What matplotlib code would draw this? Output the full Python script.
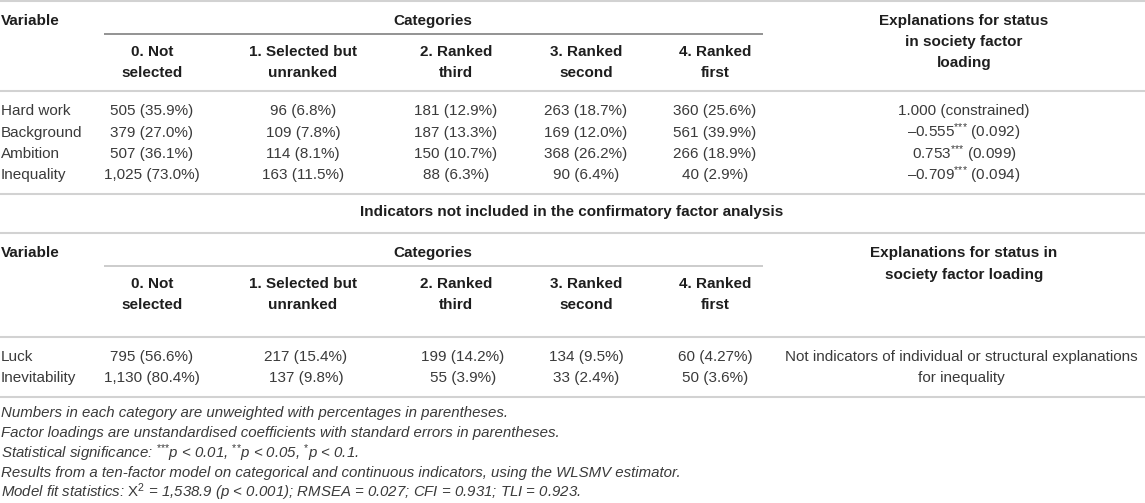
import matplotlib
matplotlib.use("Agg")
import matplotlib.pyplot as plt

plt.rcParams["font.family"] = ["Liberation Sans", "DejaVu Sans"]
plt.rcParams["mathtext.fontset"] = "custom"
plt.rcParams["mathtext.rm"] = "Liberation Sans"
plt.rcParams["mathtext.it"] = "Liberation Sans:italic"
plt.rcParams["mathtext.bf"] = "Liberation Sans:bold"

# -----------------------------
# table data
# -----------------------------
CATEGORIES = ["0. Not\nselected", "1. Selected but\nunranked", "2. Ranked\nthird",
              "3. Ranked\nsecond", "4. Ranked\nfirst"]

CFA_VARS = ["Hard work", "Background", "Ambition", "Inequality"]
CFA_COUNTS = [[505, 96, 181, 263, 360],
              [379, 109, 187, 169, 561],
              [507, 114, 150, 368, 266],
              [1025, 163, 88, 90, 40]]
CFA_PCTS = [["35.9", "6.8", "12.9", "18.7", "25.6"],
            ["27.0", "7.8", "13.3", "12.0", "39.9"],
            ["36.1", "8.1", "10.7", "26.2", "18.9"],
            ["73.0", "11.5", "6.3", "6.4", "2.9"]]
LOADINGS = ["1.000", "–0.555", "0.753", "–0.709"]
LOAD_STARS = [0, 3, 3, 3]
LOAD_SE = ["constrained", "0.092", "0.099", "0.094"]

OTHER_VARS = ["Luck", "Inevitability"]
OTHER_COUNTS = [[795, 217, 199, 134, 60],
                [1130, 137, 55, 33, 50]]
OTHER_PCTS = [["56.6", "15.4", "14.2", "9.5", "4.27"],
              ["80.4", "9.8", "3.9", "2.4", "3.6"]]
OTHER_NOTE = "Not indicators of individual or structural explanations\nfor inequality"

HEAD_VAR = "Variable"
HEAD_CAT = "Categories"
HEAD_EXPL_1 = "Explanations for status\nin society factor\nloading"
HEAD_EXPL_2 = "Explanations for status in\nsociety factor loading"
SECTION_2 = "Indicators not included in the confirmatory factor analysis"


def stars(k):
    # braces keep mathtext from spacing the asterisks like operators
    return r"$^{" + "{*}" * k + "}$" if k else ""


NOTES = [
    "Numbers in each category are unweighted with percentages in parentheses.",
    "Factor loadings are unstandardised coefficients with standard errors in parentheses.",
    f"Statistical significance: {stars(3)}p < 0.01, {stars(2)}p < 0.05, {stars(1)}p < 0.1.",
    "Results from a ten-factor model on categorical and continuous indicators, using the WLSMV estimator.",
    r"Model fit statistics: $\mathrm{X}^{2}$ = 1,538.9 (p < 0.001); RMSEA = 0.027; CFI = 0.931; TLI = 0.923.",
]

# -----------------------------
# layout (pixel units)
# -----------------------------
W, H = 1145, 503
COL_X = [152, 303, 456, 586, 715]
COL_X2 = [152, 306, 463, 586, 715]
EXPL_X = 964
FS = 11
TXT = "#3a3a3a"
BOLD = "#1e1e1e"
RULE = "#d2d2d2"

fig = plt.figure(figsize=(W / 100, H / 100), dpi=100)
ax = fig.add_axes([0, 0, 1, 1])
ax.set_xlim(0, W)
ax.set_ylim(H, 0)
ax.axis("off")


def put(x, y, s, ha="center", bold=False, italic=False, color=None, fs=FS):
    ax.text(x, y, s, ha=ha, va="center", fontsize=fs,
            fontweight="bold" if bold else "normal",
            fontstyle="italic" if italic else "normal",
            color=color or (BOLD if bold else TXT))


def put_lines(x, ys, s, **kw):
    for y, part in zip(ys, s.split("\n")):
        put(x, y, part, **kw)


def header(y0, expl, expl_ys, cat_rule_color):
    put(1, y0, HEAD_VAR, ha="left", bold=True)
    put(433, y0, HEAD_CAT, bold=True)
    ax.hlines(y0 + 13, 104, 763, color=cat_rule_color, lw=1.3)
    for x, c in zip(COL_X, CATEGORIES):
        put_lines(x, [y0 + 31, y0 + 52], c, bold=True)
    put_lines(EXPL_X, expl_ys, expl, bold=True)


# -----------------------------
# table 1: indicators in the CFA
# -----------------------------
ax.hlines(0.8, 0, W, color=RULE, lw=1.5)
header(20.5, HEAD_EXPL_1, [21, 42, 63], "#8a8a8a")
ax.hlines(90.7, 0, W, color=RULE, lw=1.5)

row_y = [111, 132.5, 154, 175]
for i, name in enumerate(CFA_VARS):
    y = row_y[i]
    put(1, y, name, ha="left")
    for x, n, p in zip(COL_X, CFA_COUNTS[i], CFA_PCTS[i]):
        put(x, y, f"{n:,} ({p}%)")
    put(EXPL_X, y, f"{LOADINGS[i]}{stars(LOAD_STARS[i])} ({LOAD_SE[i]})")
ax.hlines(194, 0, W, color=RULE, lw=1.5)

# -----------------------------
# table 2: indicators not in the CFA
# -----------------------------
put(572, 212, SECTION_2, bold=True)
ax.hlines(233, 0, W, color=RULE, lw=1.5)
header(253, HEAD_EXPL_2, [253, 275], "#c8c8c8")
ax.hlines(337, 0, W, color=RULE, lw=1.5)

row_y2 = [357, 378]
for i, name in enumerate(OTHER_VARS):
    y = row_y2[i]
    put(1, y, name, ha="left")
    for x, n, p in zip(COL_X2, OTHER_COUNTS[i], OTHER_PCTS[i]):
        put(x, y, f"{n:,} ({p}%)")
put_lines(961, row_y2, OTHER_NOTE)
ax.hlines(397, 0, W, color=RULE, lw=1.5)

# -----------------------------
# footnotes
# -----------------------------
for y, note in zip([413, 433, 453, 473, 492.5], NOTES):
    put(1, y, note, ha="left", italic=True, fs=10.8)

fig.savefig("out.png", dpi=100)
